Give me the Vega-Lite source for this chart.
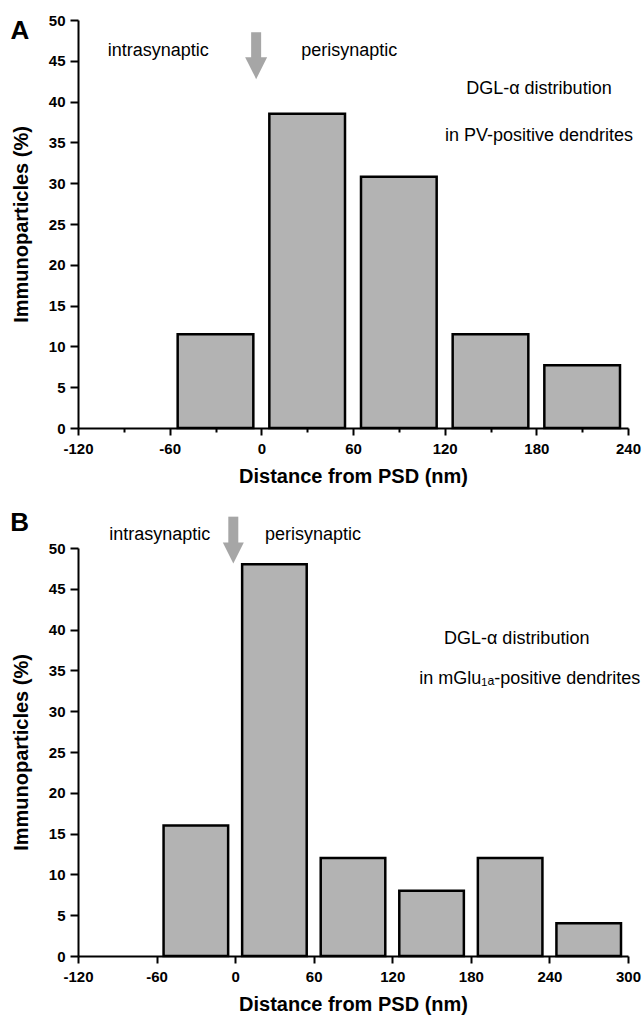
{
  "$schema": "https://vega.github.io/schema/vega-lite/v6.json",
  "padding": {"left": 10, "top": 13, "right": 5, "bottom": 5},
  "spacing": 23,
  "config": {
    "font": "Liberation Sans",
    "view": {"stroke": null},
    "axis": {
      "domainColor": "#000000",
      "domainWidth": 2,
      "tickColor": "#000000",
      "tickWidth": 2,
      "labelColor": "#000000",
      "labelFont": "Liberation Sans",
      "labelFontSize": 15,
      "labelFontWeight": "bold",
      "labelFlush": false,
      "labelOverlap": false,
      "titleColor": "#000000",
      "titleFont": "Liberation Sans",
      "titleFontSize": 20,
      "titleFontWeight": "bold",
      "grid": false
    },
    "text": {"font": "Liberation Sans", "fontSize": 18, "color": "#000000"}
  },
  "vconcat": [
    {
      "width": 550,
      "height": 408,
      "layer": [
        {
          "data": {"values": [
            {"start": -60, "end": 0, "pct": 11.5},
            {"start": 0, "end": 60, "pct": 38.5},
            {"start": 60, "end": 120, "pct": 30.8},
            {"start": 120, "end": 180, "pct": 11.5},
            {"start": 180, "end": 240, "pct": 7.7}
          ]},
          "mark": {"type": "rect", "fill": "#b3b3b3", "stroke": "#000000", "strokeWidth": 2.5, "xOffset": 8, "x2Offset": -8},
          "encoding": {
            "x": {"field": "start", "type": "quantitative",
              "scale": {"domain": [-120, 240], "nice": false, "zero": false},
              "axis": {"title": "Distance from PSD (nm)",
                "values": [-120, -90, -60, -30, 0, 30, 60, 90, 120, 150, 180, 210, 240],
                "labelExpr": "datum.value % 60 === 0 ? '' + datum.value : ''",
                "tickSize": {"condition": {"test": "datum.value % 60 === 0", "value": 7}, "value": 4},
                "labelPadding": 6, "titlePadding": 10}},
            "x2": {"field": "end"},
            "y": {"field": "pct", "type": "quantitative",
              "scale": {"domain": [0, 50], "nice": false},
              "axis": {"title": "Immunoparticles (%)",
                "values": [0, 2.5, 5, 7.5, 10, 12.5, 15, 17.5, 20, 22.5, 25, 27.5, 30, 32.5, 35, 37.5, 40, 42.5, 45, 47.5, 50],
                "labelExpr": "datum.value % 5 === 0 ? '' + datum.value : ''",
                "tickSize": {"condition": {"test": "datum.value % 5 === 0", "value": 8}, "value": 5},
                "labelPadding": 5, "titlePadding": 17}},
            "y2": {"datum": 0}
          }
        },
        {
          "data": {"values": [{}]},
          "mark": {"type": "rule", "stroke": "#a6a6a6", "strokeWidth": 10, "strokeCap": "butt"},
          "encoding": {
            "x": {"datum": -3.4, "type": "quantitative"},
            "y": {"datum": 48.5, "type": "quantitative"},
            "y2": {"datum": 45.3}
          }
        },
        {
          "data": {"values": [{}]},
          "mark": {"type": "point", "shape": "M-1,-1L1,-1L0,1Z", "filled": true, "fill": "#a6a6a6", "opacity": 1, "size": 484, "strokeWidth": 0},
          "encoding": {
            "x": {"datum": -3.4, "type": "quantitative"},
            "y": {"datum": 44.1, "type": "quantitative"}
          }
        },
        {
          "data": {"values": [{}]},
          "mark": {"type": "text", "text": "intrasynaptic", "align": "center", "baseline": "middle"},
          "encoding": {
            "x": {"datum": -67.5, "type": "quantitative"},
            "y": {"datum": 46.2, "type": "quantitative"}
          }
        },
        {
          "data": {"values": [{}]},
          "mark": {"type": "text", "text": "perisynaptic", "align": "center", "baseline": "middle"},
          "encoding": {
            "x": {"datum": 57.5, "type": "quantitative"},
            "y": {"datum": 46.2, "type": "quantitative"}
          }
        },
        {
          "data": {"values": [{}]},
          "mark": {"type": "text", "text": "DGL-α distribution", "align": "center", "baseline": "middle"},
          "encoding": {
            "x": {"datum": 181.7, "type": "quantitative"},
            "y": {"datum": 41.5, "type": "quantitative"}
          }
        },
        {
          "data": {"values": [{}]},
          "mark": {"type": "text", "text": "in PV-positive dendrites", "align": "center", "baseline": "middle"},
          "encoding": {
            "x": {"datum": 181.7, "type": "quantitative"},
            "y": {"datum": 35.8, "type": "quantitative"}
          }
        },
        {
          "data": {"values": [{}]},
          "mark": {"type": "text", "text": "A", "align": "center", "baseline": "middle", "fontSize": 26, "fontWeight": "bold"},
          "encoding": {
            "x": {"datum": -158, "type": "quantitative"},
            "y": {"datum": 48.6, "type": "quantitative"}
          }
        }
      ]
    },
    {
      "width": 550,
      "height": 408,
      "layer": [
        {
          "data": {"values": [
            {"start": -60, "end": 0, "pct": 16},
            {"start": 0, "end": 60, "pct": 48},
            {"start": 60, "end": 120, "pct": 12},
            {"start": 120, "end": 180, "pct": 8},
            {"start": 180, "end": 240, "pct": 12},
            {"start": 240, "end": 300, "pct": 4}
          ]},
          "mark": {"type": "rect", "fill": "#b3b3b3", "stroke": "#000000", "strokeWidth": 2.5, "xOffset": 7, "x2Offset": -7},
          "encoding": {
            "x": {"field": "start", "type": "quantitative",
              "scale": {"domain": [-120, 300], "nice": false, "zero": false},
              "axis": {"title": "Distance from PSD (nm)",
                "values": [-120, -90, -60, -30, 0, 30, 60, 90, 120, 150, 180, 210, 240, 270, 300],
                "labelExpr": "datum.value % 60 === 0 ? '' + datum.value : ''",
                "tickSize": {"condition": {"test": "datum.value % 60 === 0", "value": 7}, "value": 4},
                "labelPadding": 6, "titlePadding": 10}},
            "x2": {"field": "end"},
            "y": {"field": "pct", "type": "quantitative",
              "scale": {"domain": [0, 50], "nice": false},
              "axis": {"title": "Immunoparticles (%)",
                "values": [0, 2.5, 5, 7.5, 10, 12.5, 15, 17.5, 20, 22.5, 25, 27.5, 30, 32.5, 35, 37.5, 40, 42.5, 45, 47.5, 50],
                "labelExpr": "datum.value % 5 === 0 ? '' + datum.value : ''",
                "tickSize": {"condition": {"test": "datum.value % 5 === 0", "value": 8}, "value": 5},
                "labelPadding": 5, "titlePadding": 17}},
            "y2": {"datum": 0}
          }
        },
        {
          "data": {"values": [{}]},
          "mark": {"type": "rule", "stroke": "#a6a6a6", "strokeWidth": 10, "strokeCap": "butt"},
          "encoding": {
            "x": {"datum": -1.4, "type": "quantitative"},
            "y": {"datum": 53.84, "type": "quantitative"},
            "y2": {"datum": 50.4}
          }
        },
        {
          "data": {"values": [{}]},
          "mark": {"type": "point", "shape": "M-1,-1L1,-1L0,1Z", "filled": true, "fill": "#a6a6a6", "opacity": 1, "size": 441, "strokeWidth": 0},
          "encoding": {
            "x": {"datum": -1.4, "type": "quantitative"},
            "y": {"datum": 49.4, "type": "quantitative"}
          }
        },
        {
          "data": {"values": [{}]},
          "mark": {"type": "text", "text": "intrasynaptic", "align": "center", "baseline": "middle"},
          "encoding": {
            "x": {"datum": -57.5, "type": "quantitative"},
            "y": {"datum": 51.6, "type": "quantitative"}
          }
        },
        {
          "data": {"values": [{}]},
          "mark": {"type": "text", "text": "perisynaptic", "align": "center", "baseline": "middle"},
          "encoding": {
            "x": {"datum": 59.4, "type": "quantitative"},
            "y": {"datum": 51.6, "type": "quantitative"}
          }
        },
        {
          "data": {"values": [{}]},
          "mark": {"type": "text", "text": "DGL-α distribution", "align": "center", "baseline": "middle"},
          "encoding": {
            "x": {"datum": 215, "type": "quantitative"},
            "y": {"datum": 38.8, "type": "quantitative"}
          }
        },
        {
          "data": {"values": [{}]},
          "mark": {"type": "text", "text": "in mGlu₁ₐ-positive dendrites", "align": "center", "baseline": "middle"},
          "encoding": {
            "x": {"datum": 225, "type": "quantitative"},
            "y": {"datum": 34.0, "type": "quantitative"}
          }
        },
        {
          "data": {"values": [{}]},
          "mark": {"type": "text", "text": "B", "align": "center", "baseline": "middle", "fontSize": 26, "fontWeight": "bold"},
          "encoding": {
            "x": {"datum": -164.5, "type": "quantitative"},
            "y": {"datum": 53.1, "type": "quantitative"}
          }
        }
      ]
    }
  ]
}
